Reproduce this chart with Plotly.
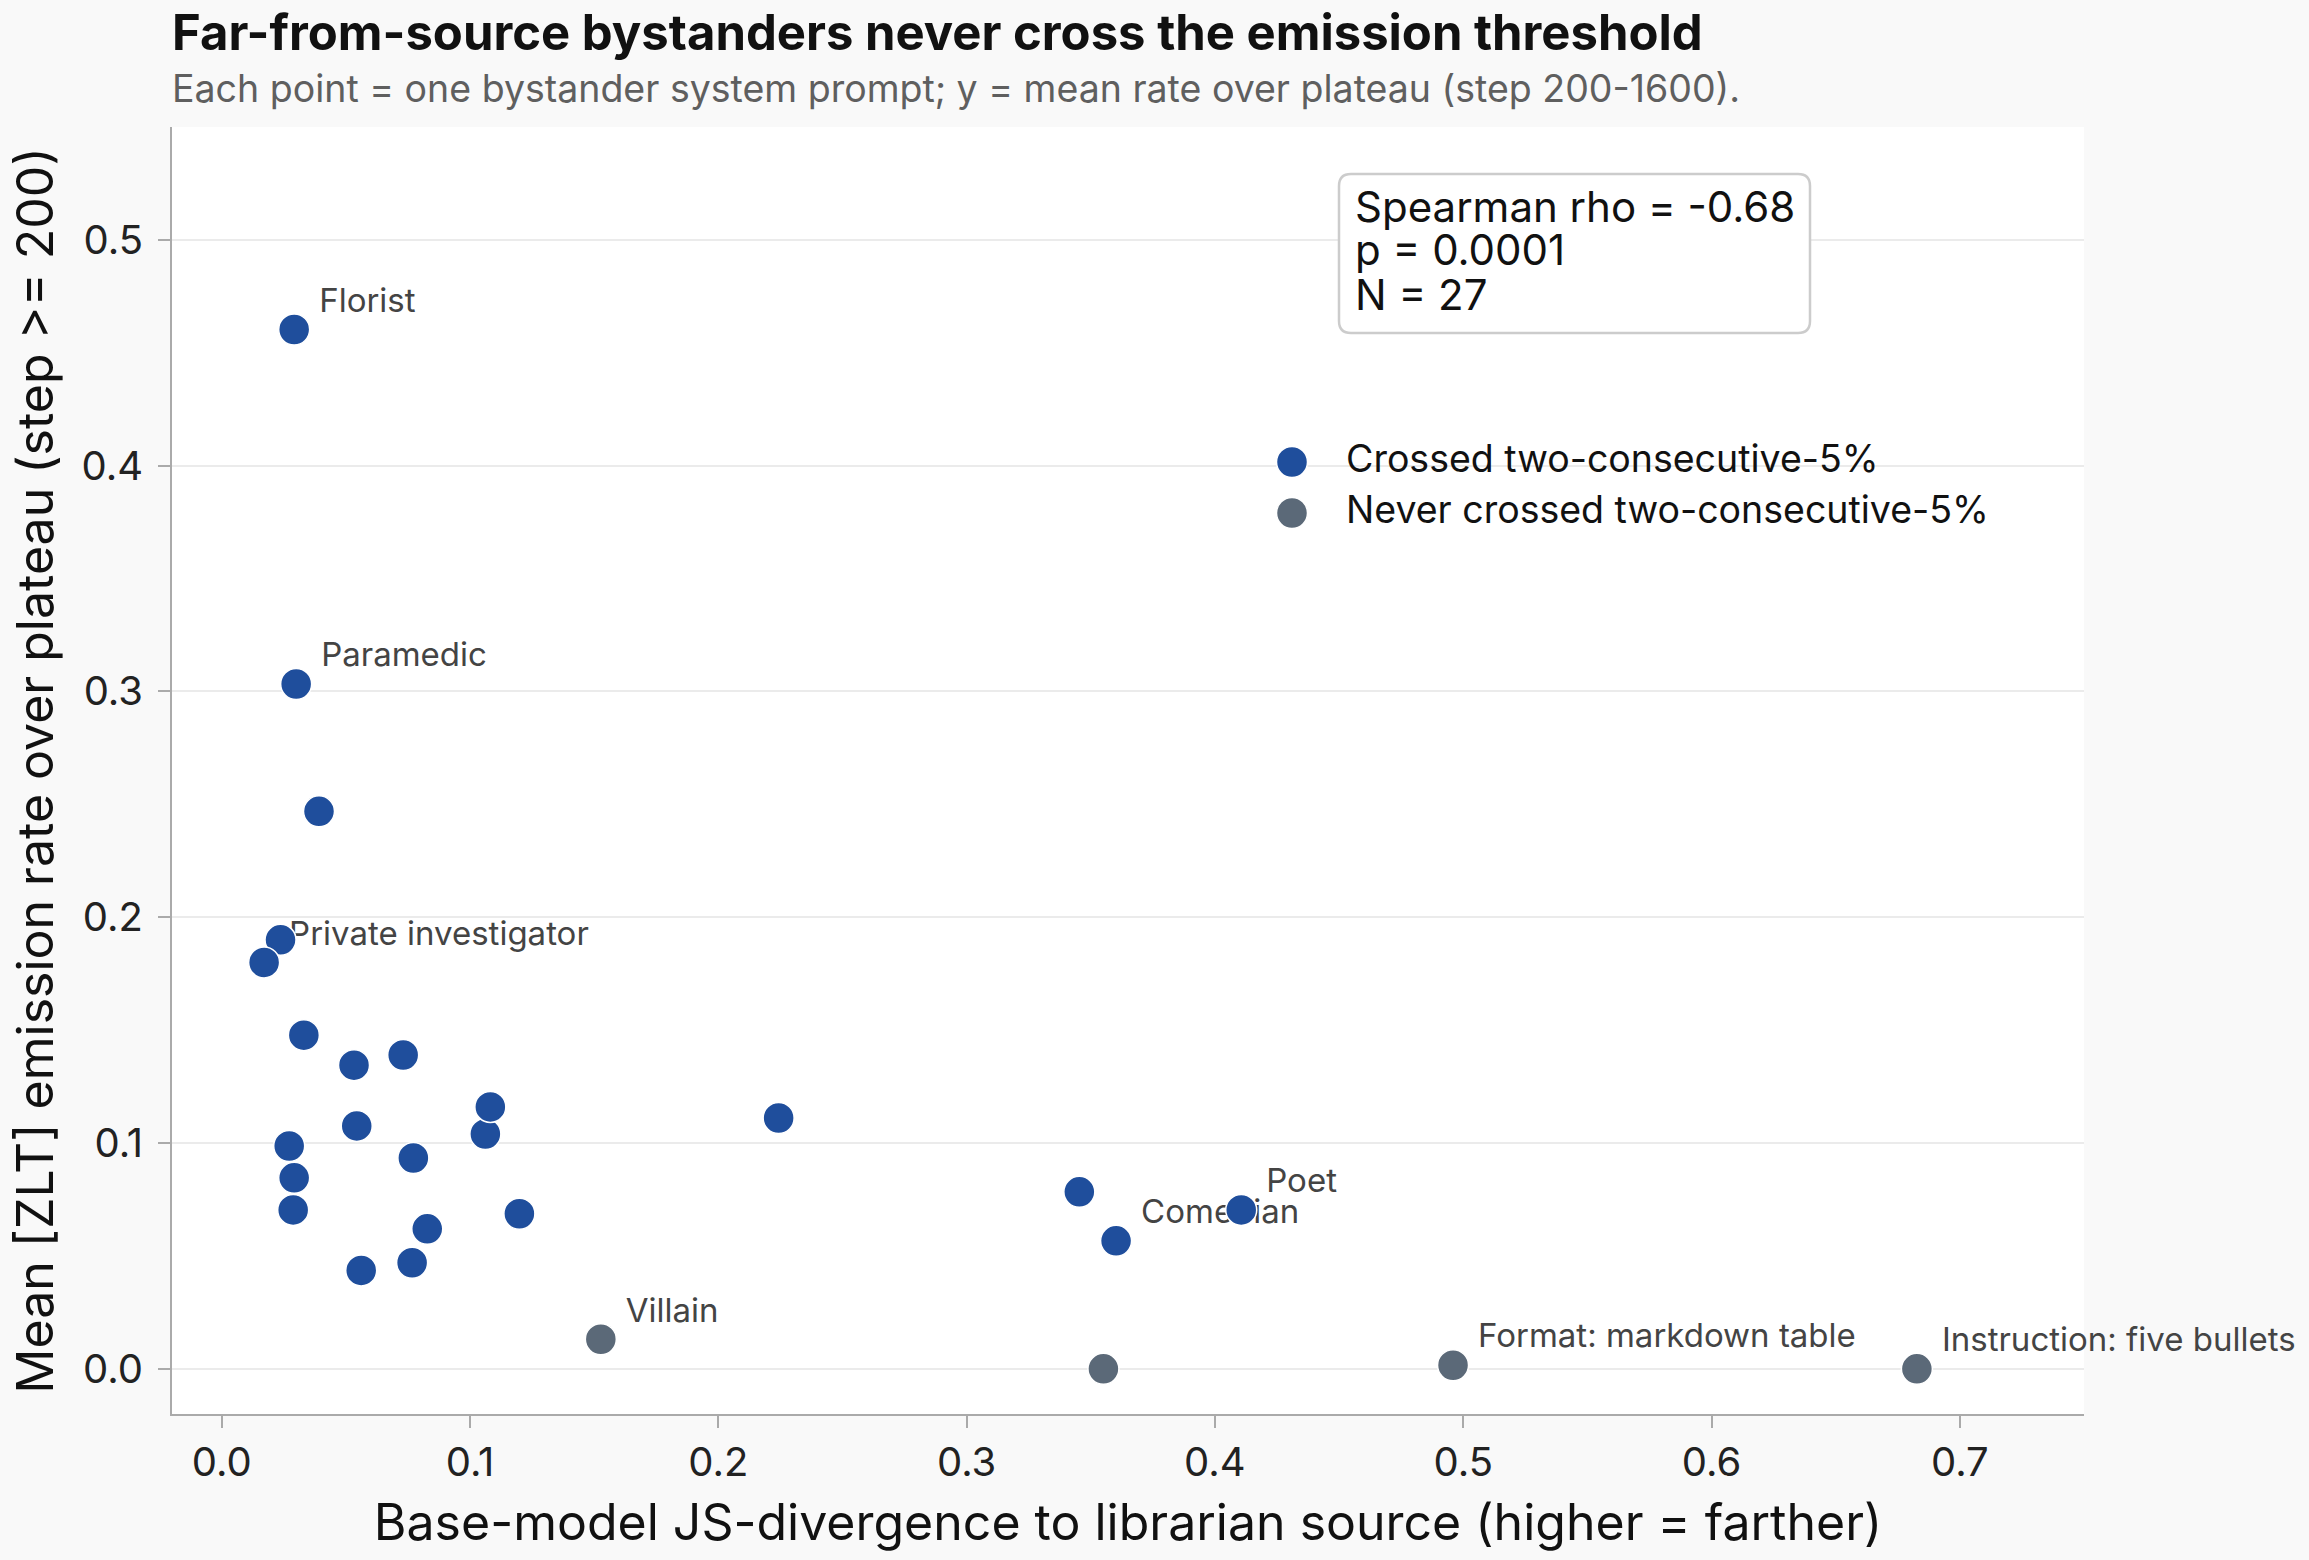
import plotly.graph_objects as go

# ---------------- data ----------------
js_div = [0.0292, 0.0300, 0.0392, 0.0237, 0.0171, 0.0331, 0.0533, 0.0731, 0.1062, 0.1082,
          0.0544, 0.0272, 0.0772, 0.0288, 0.0292, 0.0828, 0.1199, 0.0767, 0.0562, 0.2243,
          0.3454, 0.3602, 0.4106, 0.1527, 0.3551, 0.4959, 0.6827]
mean_rate = [0.4603, 0.3033, 0.2469, 0.1900, 0.1800, 0.1478, 0.1345, 0.1390, 0.1040, 0.1160,
             0.1076, 0.0987, 0.0934, 0.0704, 0.0846, 0.0620, 0.0687, 0.0470, 0.0436, 0.1111,
             0.0784, 0.0567, 0.0704, 0.0131, 0.0000, 0.0016, 0.0000]
crossed = [1, 1, 1, 1, 1, 1, 1, 1, 1, 1,
           1, 1, 1, 1, 1, 1, 1, 1, 1, 1,
           1, 1, 1, 0, 0, 0, 0]
labels = ["Florist", "Paramedic", "", "", "Private investigator", "", "", "", "", "",
          "", "", "", "", "", "", "", "", "", "",
          "", "Comedian", "Poet", "Villain", "", "Format: markdown table", "Instruction: five bullets"]

group_names = ["Crossed two-consecutive-5%", "Never crossed two-consecutive-5%"]
group_colors = ["#1f4e9c", "#5b6978"]

title = "Far-from-source bystanders never cross the emission threshold"
subtitle = "Each point = one bystander system prompt; y = mean rate over plateau (step 200-1600)."
x_title = "Base-model JS-divergence to librarian source (higher = farther)"
y_title = "Mean [ZLT] emission rate over plateau (step >= 200)"
stats_lines = ["Spearman rho = -0.68", "p = 0.0001", "N = 27"]

x_ticks = [0.0, 0.1, 0.2, 0.3, 0.4, 0.5, 0.6, 0.7]
y_ticks = [0.0, 0.1, 0.2, 0.3, 0.4, 0.5]
x_range = [-0.02, 0.75]
y_range = [-0.02, 0.55]

# ---------------- layout geometry ----------------
W, H = 2309, 1560
L, R, T, B = 172, 225, 127, 146
PW, PH = W - L - R, H - T - B
FONT = "Inter"

def px_x(X):
    return (X - L) / PW

def px_y(Y):
    return (T + PH - Y) / PH

# label offset (pixels) -> shifted overlay axis range
DX_PX, DY_PX = 25, 26
ppx = PW / (x_range[1] - x_range[0])
ppy = PH / (y_range[1] - y_range[0])
x2_range = [x_range[0] - DX_PX / ppx, x_range[1] - DX_PX / ppx]
y2_range = [y_range[0] - DY_PX / ppy, y_range[1] - DY_PX / ppy]

fig = go.Figure()

# base subplot (carries visible axes); transparent copy of the points
fig.add_trace(go.Scatter(x=js_div, y=mean_rate, mode="markers", marker=dict(size=1, opacity=0),
                         hoverinfo="skip", showlegend=False))

# labels (drawn beneath markers)
lx = [x for x, t in zip(js_div, labels) if t]
ly = [y for y, t in zip(mean_rate, labels) if t]
lt = [t for t in labels if t]
fig.add_trace(go.Scatter(
    x=lx, y=ly, text=lt, mode="text", textposition="middle right",
    textfont=dict(family=FONT, size=33, color="#444444"),
    cliponaxis=False, showlegend=False, hoverinfo="skip",
    xaxis="x2", yaxis="y2"))

# markers
for g, (name, col) in enumerate(zip(group_names, group_colors)):
    flag = 1 if g == 0 else 0
    xs = [x for x, c in zip(js_div, crossed) if c == flag]
    ys = [y for y, c in zip(mean_rate, crossed) if c == flag]
    fig.add_trace(go.Scatter(
        x=xs, y=ys, mode="markers", name=name,
        marker=dict(size=31, color=col, line=dict(color="white", width=1.5)),
        cliponaxis=False, showlegend=False, xaxis="x3", yaxis="y3"))

axis_common = dict(showline=True, linecolor="#aaaaaa", linewidth=2, ticks="outside",
                   ticklen=12, tickwidth=2, tickcolor="#aaaaaa", zeroline=False,
                   tickfont=dict(family=FONT, size=40, color="#222222"), tickformat=".1f")

fig.update_layout(
    width=W, height=H,
    margin=dict(l=L, r=R, t=T, b=B),
    paper_bgcolor="#f9f9f9", plot_bgcolor="#ffffff",
    showlegend=False,
    xaxis=dict(range=x_range, tickvals=x_ticks, showgrid=False,
               title=dict(text=x_title, font=dict(family=FONT, size=50, color="#111111"), standoff=20),
               **axis_common),
    yaxis=dict(range=y_range, tickvals=y_ticks, showgrid=True, gridcolor="#ebebeb", gridwidth=2,
               ticklabelstandoff=7,
               title=dict(text=y_title, font=dict(family=FONT, size=50, color="#111111"), standoff=12),
               **axis_common),
    xaxis2=dict(range=x2_range, overlaying="x", visible=False),
    yaxis2=dict(range=y2_range, overlaying="y", visible=False),
    xaxis3=dict(range=x_range, overlaying="x", visible=False),
    yaxis3=dict(range=y_range, overlaying="y", visible=False),
)

# title / subtitle
fig.add_annotation(text="<b>" + title + "</b>", xref="paper", yref="paper",
                   x=px_x(170), y=px_y(33), xanchor="left", yanchor="middle", showarrow=False,
                   font=dict(family=FONT, size=49, color="#111111"))
fig.add_annotation(text=subtitle, xref="paper", yref="paper",
                   x=px_x(170), y=px_y(89), xanchor="left", yanchor="middle", showarrow=False,
                   font=dict(family=FONT, size=37.5, color="#5f5f5f"))

# stats box (rounded rectangle)
bx0, bx1, by0, by1, rad = 1339, 1810, 174, 333, 12
rx, ry = rad / PW, rad / PH
X0, X1, Y0, Y1 = px_x(bx0), px_x(bx1), px_y(by1), px_y(by0)
path = (f"M {X0+rx},{Y0} L {X1-rx},{Y0} Q {X1},{Y0} {X1},{Y0+ry} "
        f"L {X1},{Y1-ry} Q {X1},{Y1} {X1-rx},{Y1} L {X0+rx},{Y1} Q {X0},{Y1} {X0},{Y1-ry} "
        f"L {X0},{Y0+ry} Q {X0},{Y0} {X0+rx},{Y0} Z")
fig.add_shape(type="path", path=path, xref="paper", yref="paper",
              fillcolor="white", line=dict(color="#cccccc", width=2.5), layer="above")
for line_txt, line_y in zip(stats_lines, [206, 250, 294]):
    fig.add_annotation(text=line_txt, xref="paper", yref="paper",
                       x=px_x(1353), y=px_y(line_y), xanchor="left", yanchor="middle", align="left",
                       showarrow=False, font=dict(family=FONT, size=42, color="#111111"))

# custom legend
leg_y = [462, 513]
for (name, col), ly_px in zip(zip(group_names, group_colors), leg_y):
    rpx = 15.5
    fig.add_shape(type="circle", xref="paper", yref="paper",
                  x0=px_x(1292 - rpx), x1=px_x(1292 + rpx), y0=px_y(ly_px + rpx), y1=px_y(ly_px - rpx),
                  fillcolor=col, line=dict(color="white", width=1.5), layer="above")
    fig.add_annotation(text=name, xref="paper", yref="paper", x=px_x(1344), y=px_y(ly_px - 3),
                       xanchor="left", yanchor="middle", showarrow=False,
                       font=dict(family=FONT, size=37.5, color="#111111"))

fig.write_html("out.html")
